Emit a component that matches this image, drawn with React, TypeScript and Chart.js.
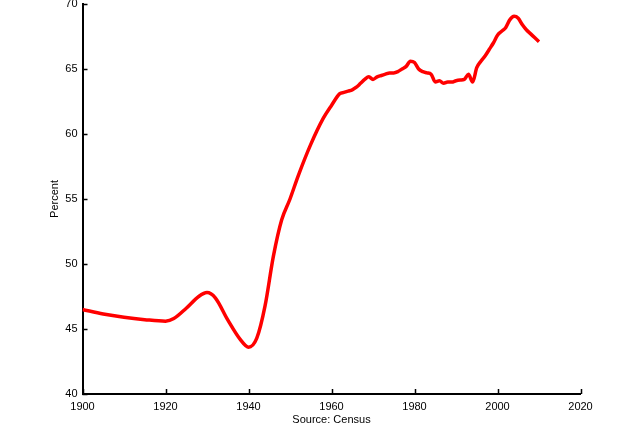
import React, { useEffect, useRef } from "react";
import { Chart, registerables } from "chart.js";

Chart.register(...registerables);

const years: number[] = [
  1900, 1905, 1910, 1915, 1920, 1922, 1925, 1928, 1930, 1932, 1935, 1938, 1940, 1942, 1944, 1946, 1948, 1950,
  1952, 1955, 1958, 1960, 1962, 1963, 1964, 1965, 1966, 1967, 1968, 1969, 1970, 1971, 1972, 1973, 1974,
  1975, 1976, 1977, 1978, 1979, 1980, 1981, 1982, 1983, 1984, 1985, 1986, 1987, 1988, 1989, 1990, 1991,
  1992, 1993, 1994, 1995, 1996, 1997, 1998, 1999, 2000, 2001, 2002, 2003, 2004, 2005, 2006, 2007, 2008,
  2009, 2010,
];
const percent: number[] = [
  46.5, 46.15, 45.9, 45.72, 45.6, 45.8, 46.6, 47.5, 47.8, 47.4, 45.7, 44.2, 43.6, 44.3, 46.8, 50.6, 53.4, 55.0,
  56.8, 59.2, 61.2, 62.2, 63.1, 63.2, 63.3, 63.4, 63.6, 63.9, 64.2, 64.4, 64.2, 64.4, 64.5, 64.6, 64.7,
  64.7, 64.8, 65.0, 65.2, 65.6, 65.5, 65.0, 64.8, 64.7, 64.6, 64.0, 64.1, 63.9, 64.0, 64.0, 64.1, 64.15,
  64.2, 64.6, 64.0, 65.1, 65.6, 66.0, 66.5, 67.0, 67.6, 67.9, 68.2, 68.8, 69.05, 68.9, 68.4, 68.0, 67.7,
  67.4, 67.1,
];
const xTicks: number[] = [1900, 1920, 1940, 1960, 1980, 2000, 2020];
const yTicks: number[] = [40, 45, 50, 55, 60, 65, 70];

const inwardTicks = {
  id: "inwardTicks",
  afterDraw(chart: any) {
    const ctx = chart.ctx;
    const { x, y } = chart.scales;
    ctx.save();
    ctx.strokeStyle = "#000";
    ctx.lineWidth = 1.5;
    ctx.beginPath();
    xTicks.forEach((t) => {
      const px = Math.round(x.getPixelForValue(t)) + 0.5;
      ctx.moveTo(px, y.bottom);
      ctx.lineTo(px, y.bottom - 5);
    });
    yTicks.forEach((t) => {
      const py = Math.round(y.getPixelForValue(t)) + 0.5;
      ctx.moveTo(x.left, py);
      ctx.lineTo(x.left + 5, py);
    });
    ctx.stroke();
    ctx.restore();
  },
};

export default function App() {
  const ref = useRef<HTMLCanvasElement | null>(null);
  useEffect(() => {
    document.body.style.margin = "0";
    const font = { family: "'Liberation Sans', Arial, sans-serif", size: 11 };
    const chart = new Chart(ref.current!, {
      type: "line",
      data: {
        datasets: [
          {
            data: years.map((yr, i) => ({ x: yr, y: percent[i] })),
            borderColor: "#ff0000",
            borderWidth: 3.5,
            pointRadius: 0,
            fill: false,
            cubicInterpolationMode: "monotone",
          },
        ],
      },
      options: {
        responsive: false,
        animation: false,
        layout: { padding: { left: 0, top: 4, right: 59.5, bottom: 0 } },
        plugins: { legend: { display: false }, tooltip: { enabled: false } },
        scales: {
          x: {
            type: "linear",
            min: 1900,
            max: 2020,
            afterBuildTicks: (s: any) => {
              s.ticks = xTicks.map((v) => ({ value: v }));
            },
            afterFit: (s: any) => {
              s.height = 54;
              s.paddingLeft = 0;
              s.paddingRight = 0;
            },
            grid: { display: true, drawOnChartArea: false, drawTicks: false },
            border: { display: true, color: "#000", width: 2 },
            ticks: { color: "#000", font, padding: 6, maxRotation: 0, autoSkip: false, callback: (v: any) => String(v) },
            title: { display: true, text: "Source: Census", color: "#000", font, padding: { top: 0, bottom: 21 } },
          },
          y: {
            min: 40,
            max: 70,
            afterBuildTicks: (s: any) => {
              s.ticks = yTicks.map((v) => ({ value: v }));
            },
            afterFit: (s: any) => {
              s.width = 82.5;
              s.paddingTop = 0;
              s.paddingBottom = 0;
            },
            grid: { display: true, drawOnChartArea: false, drawTicks: false },
            border: { display: true, color: "#000", width: 2 },
            ticks: { color: "#000", font, padding: 5, callback: (v: any) => String(v) },
            title: { display: true, text: "Percent", color: "#000", font, padding: { top: 48, bottom: 0 } },
          },
        },
      },
      plugins: [inwardTicks],
    });
    return () => chart.destroy();
  }, []);
  return (
    <div style={{ position: "fixed", left: 0, top: 0, width: 640, height: 448, background: "#fff" }}>
      <canvas ref={ref} width={640} height={448} />
    </div>
  );
}
